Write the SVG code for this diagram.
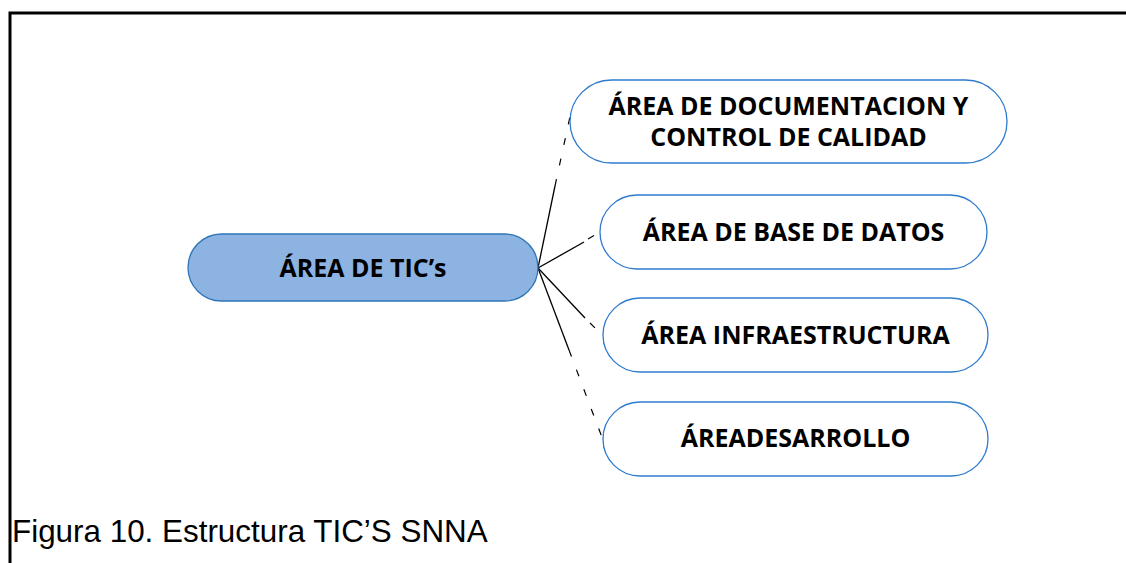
<svg xmlns="http://www.w3.org/2000/svg" width="1126" height="563" viewBox="0 0 1126 563">
  <style>
    .frame { fill: none; stroke: #000; stroke-width: 3; }
    .node { fill: #fff; stroke: #2E7BCF; stroke-width: 1.3; }
    .root { fill: #8DB3E2; stroke: #2E75B6; stroke-width: 1.3; }
    .label { font-family: "Open Sans", "DejaVu Sans", sans-serif; font-weight: bold; font-size: 25px; fill: #000; text-anchor: middle; }
    .caption { font-family: "Liberation Sans", Arial, sans-serif; font-size: 31.4px; fill: #000; }
    .link { stroke: #000; stroke-width: 1.3; fill: none; }
    .fade { stroke: #000; stroke-width: 1.2; fill: none; stroke-dasharray: 7 14; }
  </style>

  <!-- page border (left and top rules) -->
  <path class="frame" d="M10,563 V13 H1126"/>

  <!-- connectors from the root to each area -->
  <g id="connectors">
    <line class="link" x1="538" y1="268" x2="555" y2="186"/>
    <line class="fade" x1="555" y1="186" x2="571" y2="112"/>
    <line class="link" x1="538" y1="268" x2="584" y2="242"/>
    <line class="fade" x1="588" y1="239" x2="600" y2="232"/>
    <line class="link" x1="538" y1="268" x2="585" y2="318"/>
    <line class="fade" x1="590" y1="323" x2="603" y2="336"/>
    <line class="link" x1="538" y1="268" x2="569" y2="350"/>
    <line class="fade" x1="569" y1="350" x2="603" y2="440"/>
  </g>

  <g id="root">
    <rect class="root" x="188" y="234" width="350" height="67" rx="33.5"/>
    <text class="label" x="363" y="277">ÁREA DE TIC’s</text>
  </g>

  <g id="documentacion">
    <rect class="node" x="570" y="80" width="437" height="83" rx="41.5"/>
    <text class="label" x="788.5" y="115">ÁREA DE DOCUMENTACION Y</text>
    <text class="label" x="788.5" y="146">CONTROL DE CALIDAD</text>
  </g>

  <g id="base-datos">
    <rect class="node" x="600" y="195" width="387" height="74" rx="37"/>
    <text class="label" x="793.5" y="241">ÁREA DE BASE DE DATOS</text>
  </g>

  <g id="infraestructura">
    <rect class="node" x="603" y="298" width="385" height="74" rx="37"/>
    <text class="label" x="795.5" y="344">ÁREA INFRAESTRUCTURA</text>
  </g>

  <g id="desarrollo">
    <rect class="node" x="603" y="402" width="385" height="74" rx="37"/>
    <text class="label" x="795.5" y="447">ÁREADESARROLLO</text>
  </g>

  <text class="caption" x="12" y="542">Figura 10. Estructura TIC’S SNNA</text>
</svg>
